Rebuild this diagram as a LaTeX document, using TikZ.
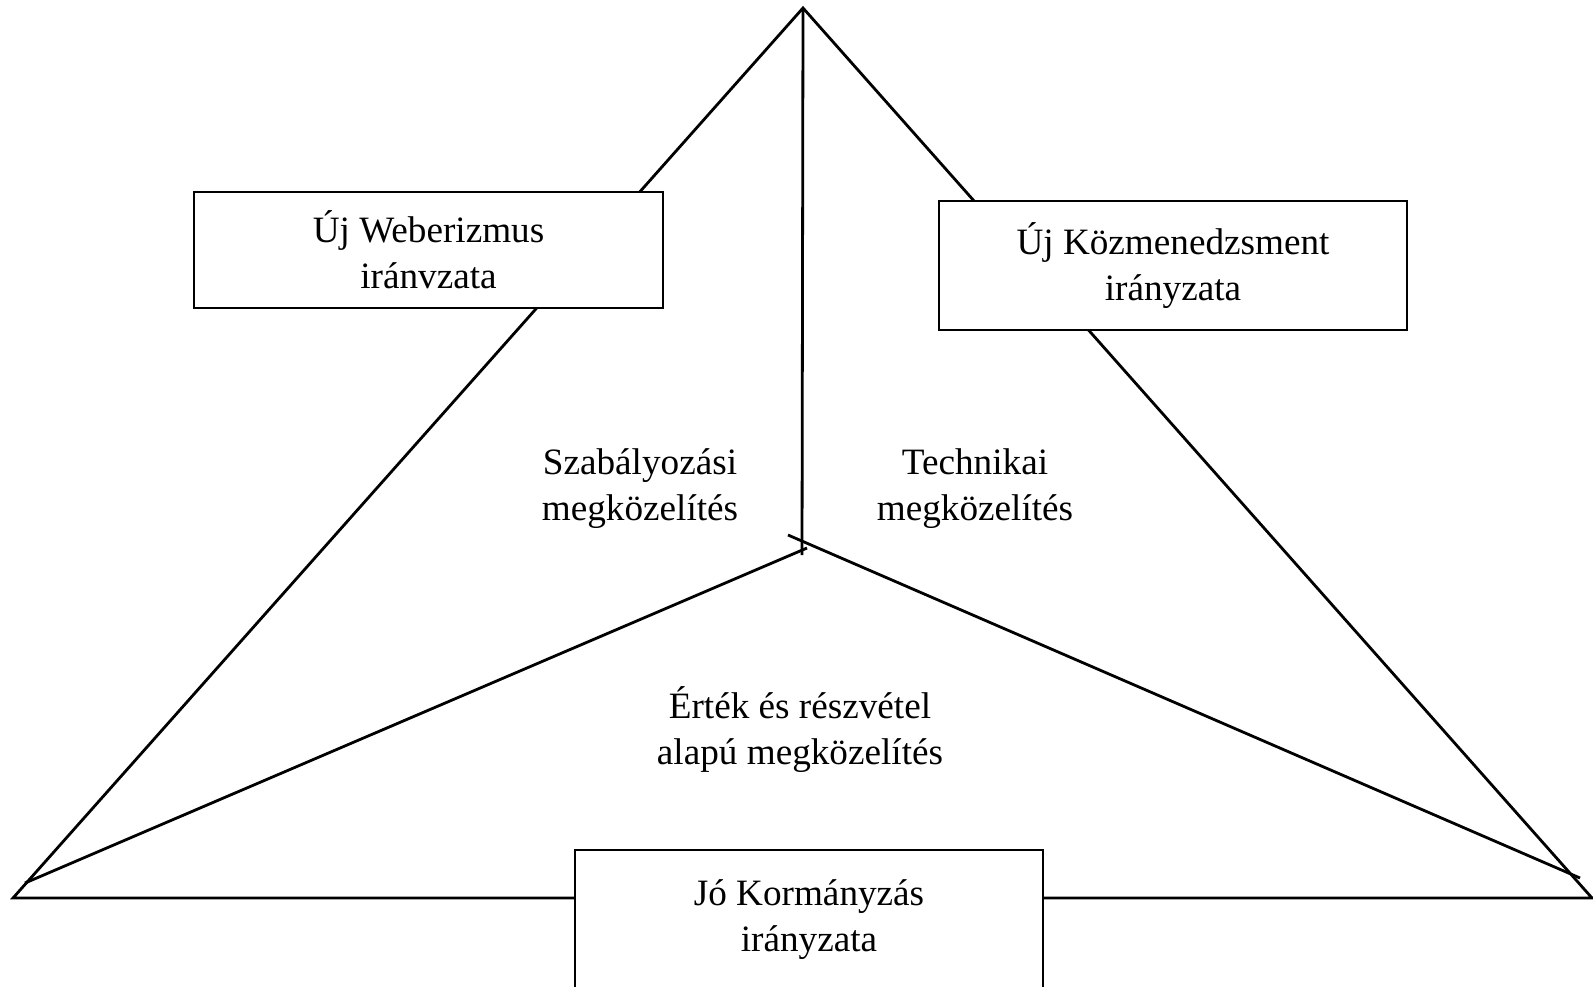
\documentclass[tikz,border=0pt]{standalone}
\usepackage{fontspec}
\setmainfont{Liberation Serif}
\newcommand{\diagfont}{\fontsize{18.6}{23}\selectfont}
\begin{document}
\begin{tikzpicture}[x=0.5pt,y=-0.5pt, line width=1.4pt,
  box/.style={draw, fill=white, line width=1.4pt, inner sep=0pt, align=center, font=\diagfont},
  lbl/.style={align=center, font=\diagfont, inner sep=0pt}]
\useasboundingbox (0,0) rectangle (1593,986);
\coordinate (apex) at (803,8);
\coordinate (bl) at (13,898);
\coordinate (br) at (1592,898);
\coordinate (cv) at (802,555);
\coordinate (cl) at (807,548);
\coordinate (lb) at (25,883);
\coordinate (cr) at (788,535);
\coordinate (rb) at (1580,878);
\draw[line join=miter] (bl) -- (apex) -- (br) -- cycle;
\draw (apex) -- (cv);
\draw (lb) -- (cl);
\draw (cr) -- (rb);
\node[box, minimum width=234.5pt, minimum height=58pt] (web) at (428.5,250) {\raisebox{-1.5pt}{Új Weberizmus}\\\raisebox{-1.5pt}{iránvzata}};
\node[box, minimum width=234pt, minimum height=64.5pt] (npm) at (1173,265.5) {Új Közmenedzsment\\irányzata};
\node[box, minimum width=234pt, minimum height=70pt] (gg) at (809,920) {Jó Kormányzás\\irányzata};
\node[lbl] (szab) at (640,489) {Szabályozási\\megközelítés};
\node[lbl] (tech) at (975,489) {Technikai\\megközelítés};
\node[lbl] (ert) at (800,730) {Érték és részvétel\\alapú megközelítés};
\end{tikzpicture}
\end{document}
